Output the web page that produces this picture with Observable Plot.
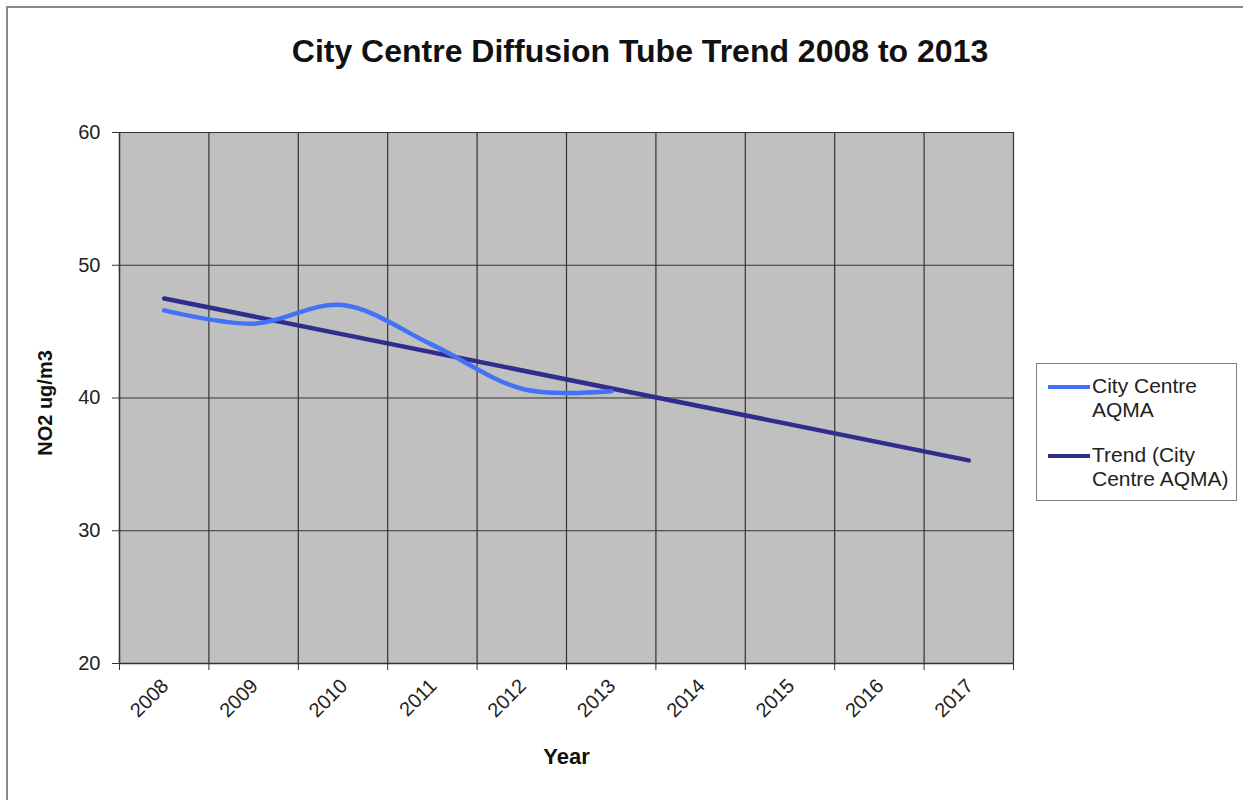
<!DOCTYPE html>
<html>
<head>
<meta charset="utf-8">
<script src="https://cdn.jsdelivr.net/npm/d3@7"></script>
<script src="https://cdn.jsdelivr.net/npm/@observablehq/plot@0.6"></script>
<style>
  html, body { margin: 0; padding: 0; background: #fff; }
  #wrap { position: relative; width: 1243px; height: 800px; overflow: hidden; font-family: "Liberation Sans", Arial, sans-serif; }
  #border { position: absolute; left: 6px; top: 6px; right: -10px; bottom: -10px; border-left: 2px solid #8a8a8a; border-top: 2px solid #8a8a8a; }
  #title { position: absolute; left: 0; width: 1280px; top: 33px; text-align: center; font-weight: bold; font-size: 32px; color: #111; }
  #chart { position: absolute; left: 0; top: 0; }
  #legend { position: absolute; left: 1036px; top: 363px; width: 201px; height: 138px; border: 1px solid #808080; background: #fff; box-sizing: border-box; }
  .entry { position: absolute; left: 11px; font-size: 21px; line-height: 24px; color: #222; }
  .swatch { position: absolute; left: 0; width: 42px; height: 4px; }
  .txt { position: absolute; left: 44px; white-space: nowrap; }
</style>
</head>
<body>
<div id="wrap">
  <div id="border"></div>
  <div id="chart"></div>
  <div id="title"></div>
  <div id="legend"></div>
</div>
<script>
// ---- data ----
const categories = [2008, 2009, 2010, 2011, 2012, 2013, 2014, 2015, 2016, 2017];
const no2Years = [2008, 2009, 2010, 2011, 2012, 2013];
const no2Values = [46.6, 45.6, 47.0, 44.0, 40.7, 40.5];
const trendYears = [2008, 2017];
const trendValues = [47.5, 35.3];
const yTicks = [20, 30, 40, 50, 60];
const seriesNames = ["City Centre\nAQMA", "Trend (City\nCentre AQMA)"];
const seriesColors = ["#4272f6", "#302d8c"];
const titleText = "City Centre Diffusion Tube Trend 2008 to 2013";
const xLabel = "Year";
const yLabel = "NO2 ug/m3";

const no2 = no2Years.map((y, i) => ({year: y, value: no2Values[i]}));
const trend = trendYears.map((y, i) => ({year: y, value: trendValues[i]}));
// category boundaries (Excel category axis gridlines sit between categories)
const bounds = categories.map(c => c - 0.5).concat([categories[categories.length - 1] + 0.5]);

const chart = Plot.plot({
  width: 1243,
  height: 800,
  marginLeft: 119,
  marginRight: 230,
  marginTop: 132,
  marginBottom: 137,
  style: {fontFamily: "'Liberation Sans', Arial, sans-serif", background: "transparent", color: "#222"},
  x: {type: "linear", domain: [bounds[0], bounds[bounds.length - 1]], axis: null},
  y: {domain: [20, 60], axis: null},
  marks: [
    Plot.frame({fill: "#c0c0c0", stroke: null}),
    Plot.ruleY(yTicks, {stroke: "#333", strokeWidth: 1.2}),
    Plot.ruleX(bounds, {stroke: "#333", strokeWidth: 1.2}),
    Plot.line(trend, {x: "year", y: "value", stroke: seriesColors[1], strokeWidth: 4.5}),
    Plot.line(no2, {x: "year", y: "value", stroke: seriesColors[0], strokeWidth: 4.5, curve: "cardinal"}),
    Plot.axisY({ticks: yTicks, tickSize: 7, tickPadding: 12, fontSize: 20, label: null, stroke: "#333"}),
    Plot.axisX({ticks: bounds, tickSize: 7, tickFormat: () => "", label: null, stroke: "#333"}),
    Plot.ruleY([20], {stroke: "#333", strokeWidth: 1.4}),
    Plot.ruleX([bounds[0]], {stroke: "#333", strokeWidth: 1.4}),
    Plot.text(categories, {x: d => d, frameAnchor: "bottom", dy: 19, dx: 1, rotate: -45, textAnchor: "end", lineAnchor: "middle", fontSize: 20, fill: "#222", text: d => String(d)}),
    Plot.text([xLabel], {frameAnchor: "bottom", dy: 100, fontSize: 22, fontWeight: "bold", fill: "#111"}),
    Plot.text([yLabel], {frameAnchor: "left", dx: -74, dy: 5, rotate: -90, textAnchor: "middle", fontSize: 20, fontWeight: "bold", fill: "#111"})
  ]
});
document.getElementById("chart").appendChild(chart);
document.getElementById("title").textContent = titleText;

const legend = document.getElementById("legend");
seriesNames.forEach((name, i) => {
  const e = document.createElement("div");
  e.className = "entry";
  e.style.top = (10 + i * 69) + "px";
  const sw = document.createElement("div");
  sw.className = "swatch";
  sw.style.background = seriesColors[i];
  sw.style.top = "11px";
  const t = document.createElement("div");
  t.className = "txt";
  t.innerHTML = name.split("\n").join("<br>");
  e.appendChild(sw); e.appendChild(t);
  legend.appendChild(e);
});
</script>
</body>
</html>
